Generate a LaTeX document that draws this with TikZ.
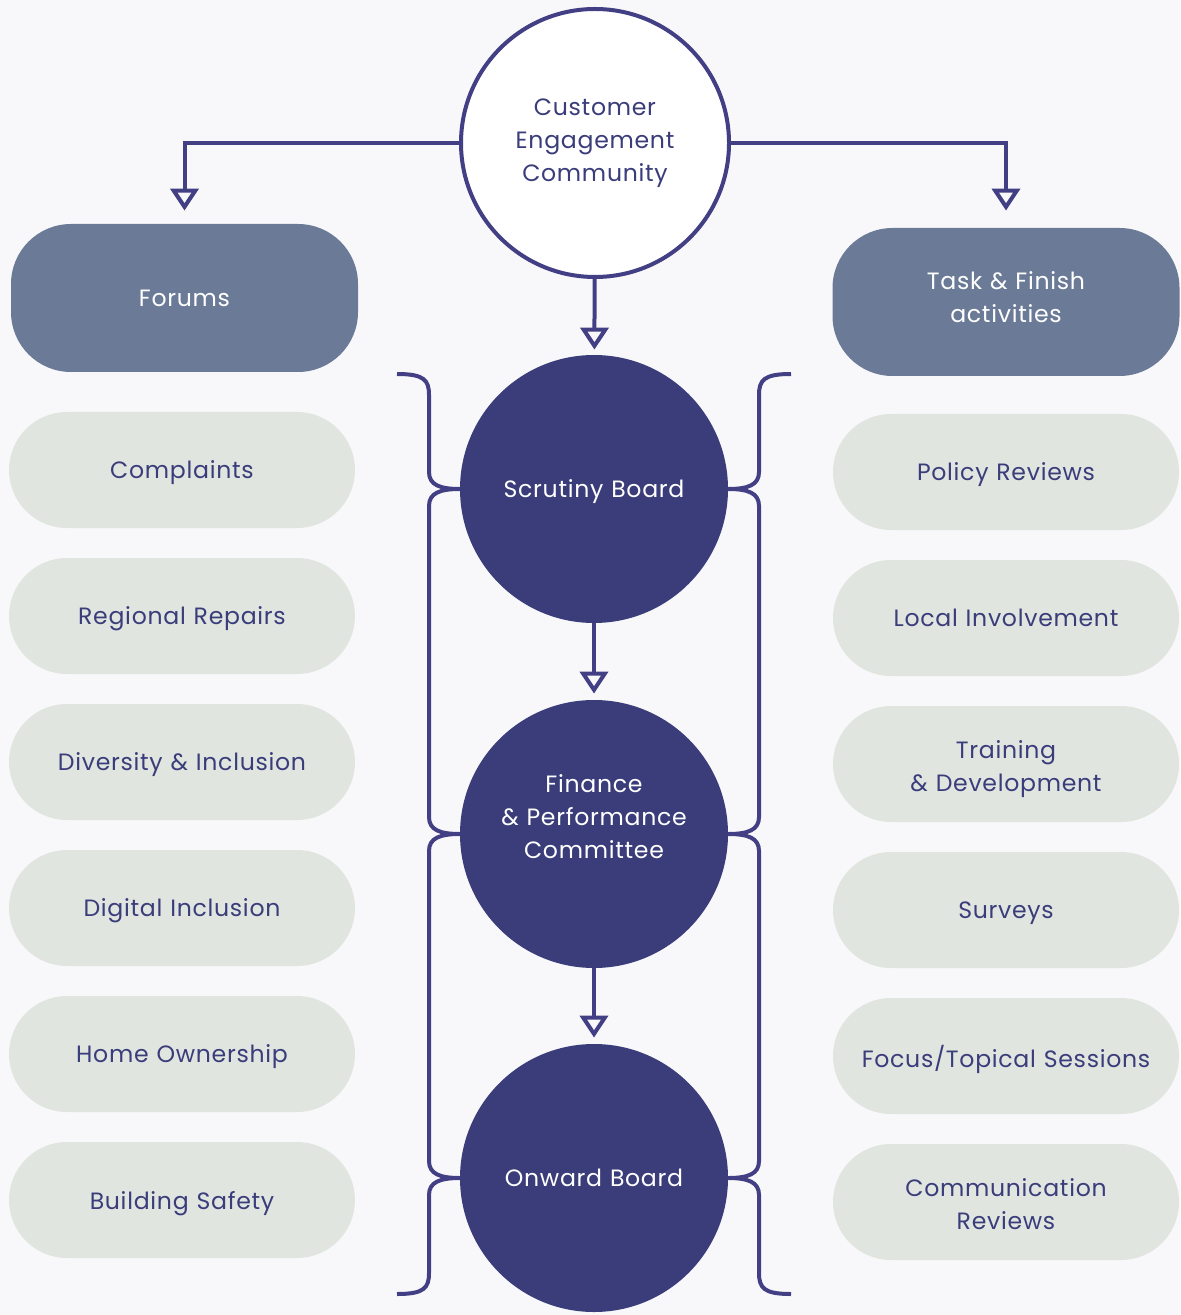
\documentclass[tikz,border=0pt]{standalone}
\usepackage{fontspec}
\setmainfont{Poppins}[LetterSpace=3]
\usetikzlibrary{arrows.meta}

\definecolor{navy}{HTML}{3A3D7A}
\definecolor{wire}{HTML}{433F84}
\definecolor{slate}{HTML}{6B7B97}
\definecolor{mist}{HTML}{E1E5E0}
\definecolor{paper}{HTML}{F8F8FA}

\begin{document}
\begin{tikzpicture}[
	x=0.5pt, y=-0.5pt,
	font=\fontsize{11.8}{16.5}\selectfont,
	hub/.style={circle, draw=wire, line width=2pt, fill=white, minimum size=134pt, inner sep=0pt, text width=110pt, align=center, text=navy},
	board/.style={circle, fill=navy, minimum size=134pt, inner sep=0pt, text width=110pt, text depth=0pt, align=center, text=white},
	group/.style={rectangle, rounded corners=30pt, fill=slate, minimum width=173.5pt, minimum height=74pt, text width=150pt, text depth=0pt, align=center, text=white},
	topic/.style={rectangle, rounded corners=29pt, fill=mist, minimum width=173pt, minimum height=58pt, text width=165pt, text depth=0pt, align=center, text=navy},
	twolines/.style={text depth=14pt},
	arrow/.style={-{Triangle[open, length=11pt, width=14pt, fill=paper]}, line width=2pt, draw=wire},
	brace/.style={line width=2pt, draw=wire}
]
\fill[paper] (0,0) rectangle (1180,1315);
\useasboundingbox (0,0) rectangle (1180,1315);

% centre column
\node (hub) [hub] at (595,143) {Customer\\Engagement\\Community};
\node (scrutiny) [board] at (594,489) {Scrutiny Board};
\node (finance) [board, text depth=50pt] at (594,834) {Finance\\\& Performance\\Committee};
\node (onward) [board] at (594,1178) {Onward Board};

% side headings
\node (forums) [group] at (184.5,298) {Forums};
\node (taskfinish) [group, text depth=21pt] at (1006,302) {Task \& Finish\\activities};

% forums
\node (complaints) [topic] at (182,470) {Complaints};
\node (repairs) [topic] at (182,616) {Regional Repairs};
\node (diversity) [topic] at (182,762) {Diversity \& Inclusion};
\node (digital) [topic] at (182,908) {Digital Inclusion};
\node (ownership) [topic] at (182,1054) {Home Ownership};
\node (safety) [topic] at (182,1200) {Building Safety};

% task and finish work
\node (policy) [topic] at (1006,472) {Policy Reviews};
\node (local) [topic] at (1006,618) {Local Involvement};
\node (training) [topic, twolines] at (1006,764) {Training\\\& Development};
\node (surveys) [topic] at (1006,910) {Surveys};
\node (focus) [topic] at (1006,1056) {Focus/Topical Sessions};
\node (comms) [topic, twolines] at (1006,1202) {Communication\\Reviews};

% arrows
\draw [arrow, shorten >=6.5pt] (hub.west) -| (forums.north);
\draw [arrow, shorten >=8.5pt] (hub.east) -| (taskfinish.north);
\draw [arrow, shorten >=2.5pt] (hub) -- (scrutiny);
\draw [arrow, shorten >=3pt] (scrutiny) -- (finance);
\draw [arrow, shorten >=3pt] (finance) -- (onward);

% braces either side of the boards
\foreach \side in {1,-1}
	\draw [brace, shift={(594,0)}, xscale=\side]
		(-197,374) .. controls (-170,374) and (-165,380) .. (-165,395)
		-- (-165,472) .. controls (-165,485) and (-154,489) .. (-134,489)
		.. controls (-154,489) and (-165,493) .. (-165,506)
		-- (-165,817) .. controls (-165,830) and (-154,834) .. (-134,834)
		.. controls (-154,834) and (-165,838) .. (-165,851)
		-- (-165,1161) .. controls (-165,1174) and (-154,1178) .. (-134,1178)
		.. controls (-154,1178) and (-165,1182) .. (-165,1195)
		-- (-165,1273) .. controls (-165,1288) and (-170,1294) .. (-197,1294);
\end{tikzpicture}
\end{document}
